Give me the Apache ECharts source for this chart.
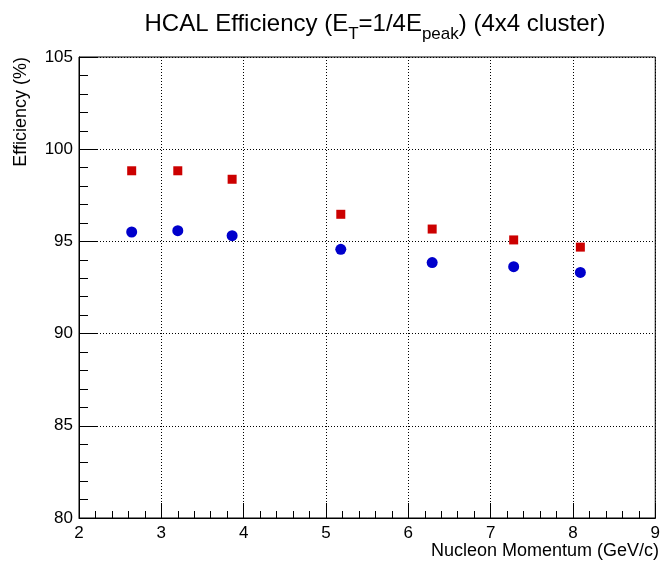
<!DOCTYPE html>
<html><head><meta charset="utf-8">
<script src="https://cdn.jsdelivr.net/npm/echarts@6/dist/echarts.min.js"></script>
<style>html,body{margin:0;padding:0;background:#fff}#c{width:663px;height:564px}</style>
</head><body><div id="c"></div>
<script>
const momentum = [2.64, 3.20, 3.86, 5.18, 6.29, 7.28, 8.09];
const effRed = [98.83, 98.83, 98.37, 96.47, 95.67, 95.08, 94.69];
const effBlue = [95.51, 95.58, 95.31, 94.57, 93.85, 93.63, 93.32];
const xTicks = [2, 3, 4, 5, 6, 7, 8, 9];
const yTicks = [80, 85, 90, 95, 100, 105];

const FONT = 'Liberation Sans';
const chart = echarts.init(document.getElementById('c'), null, {renderer: 'canvas'});
const axisCommon = {
  type: 'value',
  axisLine: {show: true, lineStyle: {color: '#000', width: 1}},
  splitLine: {show: true, lineStyle: {color: '#000', type: [1, 2], width: 1}},
};
chart.setOption({
  animation: false,
  backgroundColor: '#fff',
  title: {
    text: 'HCAL Efficiency (E{sub|T}=1/4E{sub|peak}) (4x4 cluster)',
    left: 370, top: 0, textAlign: 'center',
    textStyle: {
      fontFamily: FONT, fontSize: 24, fontWeight: 'normal', color: '#000', lineHeight: 38,
      rich: {sub: {fontFamily: FONT, fontSize: 17, color: '#000', verticalAlign: 'bottom', lineHeight: 38}}
    }
  },
  grid: {left: 79, right: 5, top: 57, bottom: 46, show: true, borderColor: '#000', borderWidth: 1, containLabel: false},
  xAxis: Object.assign({}, axisCommon, {
    min: xTicks[0], max: xTicks[xTicks.length - 1], interval: 1,
    axisTick: {show: true, inside: true, length: 15, lineStyle: {color: '#000'}},
    minorTick: {show: true, splitNumber: 5, length: 7, lineStyle: {color: '#000'}},
    axisLabel: {color: '#000', fontFamily: FONT, fontSize: 17, margin: 7, showMinLabel: true, showMaxLabel: true},
  }),
  yAxis: Object.assign({}, axisCommon, {
    min: yTicks[0], max: yTicks[yTicks.length - 1], interval: 5,
    axisTick: {show: true, inside: true, length: 18, lineStyle: {color: '#000'}},
    minorTick: {show: true, splitNumber: 5, length: 9, lineStyle: {color: '#000'}},
    axisLabel: {color: '#000', fontFamily: FONT, fontSize: 17, margin: 6, showMinLabel: true, showMaxLabel: true},
  }),
  graphic: [
    {type: 'text', x: 659, y: 542, style: {text: 'Nucleon Momentum (GeV/c)', fontFamily: FONT, fontSize: 18, fill: '#000', align: 'right', verticalAlign: 'top'}},
    {type: 'text', x: 12, y: 57, rotation: Math.PI / 2, style: {text: 'Efficiency (%)', fontFamily: FONT, fontSize: 18, fill: '#000', align: 'right', verticalAlign: 'top'}}
  ],
  series: [
    {type: 'scatter', data: momentum.map((m, i) => [m, effRed[i]]), symbol: 'rect', symbolSize: 9, itemStyle: {color: '#cc0000', opacity: 1}},
    {type: 'scatter', data: momentum.map((m, i) => [m, effBlue[i]]), symbol: 'circle', symbolSize: 11, itemStyle: {color: '#0000cc', opacity: 1}}
  ]
});
</script></body></html>
